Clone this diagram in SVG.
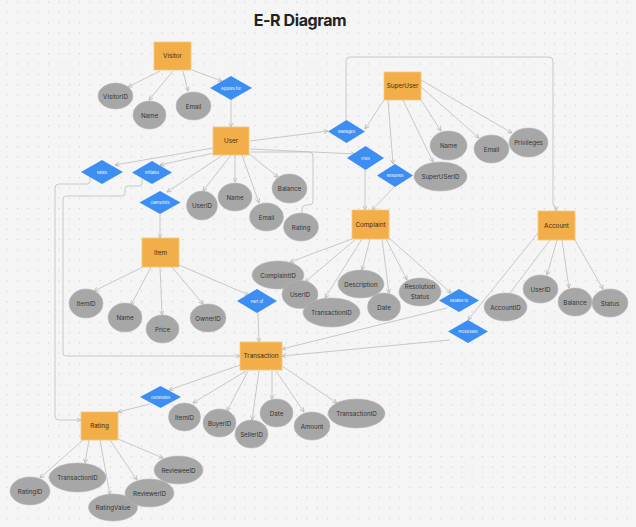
<svg xmlns="http://www.w3.org/2000/svg" width="636" height="527" viewBox="0 0 636 527">
<defs>
<pattern id="dots" x="6.7" y="1.4" width="10.33" height="10.33" patternUnits="userSpaceOnUse">
<circle cx="0.6" cy="0.6" r="0.6" fill="#c9c9c9"/>
</pattern>
<marker id="arr" viewBox="0 0 6 6" refX="5.5" refY="3" markerWidth="5" markerHeight="5" markerUnits="userSpaceOnUse" orient="auto">
<path d="M0.5,0.5 L5.5,3 L0.5,5.5" fill="none" stroke="#b5b5b5" stroke-width="0.9"/>
</marker>
<style>
.ent{fill:#F2AE48;stroke:#F7C880;stroke-width:0.8}
.att{fill:#A7A7A7;stroke:#B9B9B9;stroke-width:0.6}
.rel{fill:#3D8EF2}
.et{font-family:Inter,"Liberation Sans",sans-serif;font-size:6.3px;fill:#3a2c16;text-anchor:middle;dominant-baseline:central}
.at{font-family:Inter,"Liberation Sans",sans-serif;font-size:6.2px;fill:#333;text-anchor:middle;dominant-baseline:central}
.rt{font-family:Inter,"Liberation Sans",sans-serif;font-size:3.9px;fill:#ffffff;text-anchor:middle;dominant-baseline:central}
.c{fill:none;stroke:#bdbdbd;stroke-width:0.8}
.ca{fill:none;stroke:#bdbdbd;stroke-width:0.8;marker-end:url(#arr)}
</style>
</defs>
<rect width="636" height="527" fill="#f5f5f5"/>
<rect width="636" height="527" fill="url(#dots)"/>
<text x="300" y="20" font-family="Inter,'Liberation Sans',sans-serif" font-size="16" font-weight="700" fill="#222" text-anchor="middle" dominant-baseline="central" letter-spacing="-0.4">E-R Diagram</text>

<g id="connectors">
<!-- Visitor -->
<line class="ca" x1="160" y1="71" x2="128" y2="87"/>
<line class="ca" x1="173" y1="71" x2="149" y2="100"/>
<line class="ca" x1="183" y1="71" x2="188" y2="91"/>
<line class="ca" x1="192" y1="70" x2="222" y2="81"/>
<line class="ca" x1="231" y1="100" x2="231" y2="127"/>
<!-- User -->
<line class="ca" x1="250" y1="141" x2="328" y2="131"/>
<line class="ca" x1="250" y1="149" x2="355" y2="154"/>
<line class="ca" x1="213" y1="148" x2="115" y2="165"/>
<line class="ca" x1="214" y1="153" x2="160" y2="165"/>
<line class="ca" x1="223" y1="155" x2="167" y2="192"/>
<line class="ca" x1="231" y1="155" x2="203" y2="191"/>
<line class="ca" x1="235" y1="155" x2="235" y2="182"/>
<line class="ca" x1="242" y1="155" x2="259" y2="203"/>
<line class="ca" x1="248" y1="153" x2="278" y2="177"/>
<path class="c" d="M250,152 H309 Q313,152 313,156 V201 Q313,205 309,205 H306 Q302,205 302,209 V213"/>
<path class="ca" d="M90,178 V181 Q90,184 87,184 H59 Q55,184 55,188 V416 Q55,420 59,420 H81"/>
<path class="ca" d="M142,179 V183 Q142,186 139,186 H128 Q125,186 125,189 V193 Q125,196 122,196 H66 Q63,196 63,199 V353 Q63,356 66,356 H240"/>
<line class="ca" x1="160" y1="214" x2="160" y2="238"/>
<!-- SuperUser -->
<path class="ca" d="M346,120 V61 Q346,57 350,57 H549 Q553,57 553,61 V203 Q553,207 556,207 V211"/>
<line class="ca" x1="384" y1="100" x2="365" y2="129"/>
<line class="ca" x1="388" y1="100" x2="393" y2="164"/>
<line class="ca" x1="403" y1="100" x2="433" y2="162"/>
<line class="ca" x1="421" y1="100" x2="441" y2="131"/>
<line class="ca" x1="421" y1="87" x2="479" y2="138"/>
<line class="ca" x1="421" y1="80" x2="512" y2="133"/>
<line class="ca" x1="365" y1="170" x2="365" y2="210"/>
<line class="ca" x1="394" y1="187" x2="372" y2="210"/>
<!-- Complaint -->
<line class="ca" x1="352" y1="239" x2="290" y2="262"/>
<line class="ca" x1="356" y1="239" x2="305" y2="282"/>
<line class="ca" x1="362" y1="239" x2="325" y2="298"/>
<line class="ca" x1="370" y1="239" x2="362" y2="270"/>
<line class="ca" x1="382" y1="239" x2="389" y2="293"/>
<line class="ca" x1="386" y1="239" x2="407" y2="280"/>
<line class="ca" x1="389" y1="238" x2="451" y2="293"/>
<line class="ca" x1="447" y1="308" x2="282" y2="349"/>
<!-- Account -->
<line class="ca" x1="538" y1="233" x2="468" y2="320"/>
<line class="c" x1="550" y1="240" x2="510" y2="293"/>
<line class="ca" x1="557" y1="240" x2="547" y2="275"/>
<line class="ca" x1="562" y1="240" x2="569" y2="288"/>
<line class="ca" x1="575" y1="240" x2="603" y2="289"/>
<line class="ca" x1="450" y1="340" x2="282" y2="356"/>
<!-- Item -->
<line class="ca" x1="143" y1="267" x2="94" y2="291"/>
<line class="ca" x1="151" y1="267" x2="131" y2="305"/>
<line class="ca" x1="160" y1="267" x2="162" y2="315"/>
<line class="ca" x1="172" y1="267" x2="203" y2="304"/>
<line class="ca" x1="179" y1="265" x2="249" y2="295"/>
<line class="ca" x1="258" y1="313" x2="259" y2="342"/>
<!-- Transaction -->
<line class="ca" x1="240" y1="365" x2="169" y2="390"/>
<line class="ca" x1="246" y1="371" x2="193" y2="403"/>
<line class="ca" x1="248" y1="371" x2="227" y2="411"/>
<line class="ca" x1="259" y1="371" x2="252" y2="420"/>
<line class="ca" x1="272" y1="371" x2="272" y2="399"/>
<line class="ca" x1="276" y1="371" x2="304" y2="412"/>
<line class="ca" x1="282" y1="366" x2="337" y2="403"/>
<line class="ca" x1="150" y1="404" x2="118" y2="412"/>
<!-- Rating -->
<line class="ca" x1="83" y1="440" x2="40" y2="478"/>
<line class="ca" x1="89" y1="440" x2="85" y2="463"/>
<line class="ca" x1="100" y1="440" x2="110" y2="495"/>
<line class="ca" x1="110" y1="440" x2="137" y2="480"/>
<line class="ca" x1="118" y1="439" x2="163" y2="458"/>
</g>

<!-- Entities -->
<g id="visitor"><rect class="ent" x="154" y="42" width="37" height="28"/><text class="et" x="172.5" y="56">Visitor</text></g>
<g id="user"><rect class="ent" x="213" y="127" width="36" height="28"/><text class="et" x="231" y="141">User</text></g>
<g id="superuser"><rect class="ent" x="384" y="72" width="37" height="28"/><text class="et" x="402.5" y="86">SuperUser</text></g>
<g id="complaint"><rect class="ent" x="352" y="210" width="37" height="29"/><text class="et" x="370.5" y="224.5">Complaint</text></g>
<g id="account"><rect class="ent" x="538" y="211" width="37" height="29"/><text class="et" x="556.5" y="225.5">Account</text></g>
<g id="item"><rect class="ent" x="142" y="238" width="37" height="29"/><text class="et" x="160.5" y="252.5">Item</text></g>
<g id="transaction"><rect class="ent" x="240" y="342" width="42" height="28"/><text class="et" x="261" y="356">Transaction</text></g>
<g id="rating"><rect class="ent" x="81" y="412" width="37" height="28"/><text class="et" x="99.5" y="426">Rating</text></g>

<!-- Relationships -->
<g id="applies-for"><polygon class="rel" points="210,88 231,76 252,88 231,100"/><text class="rt" x="231" y="88">Applies for</text></g>
<g id="manages"><polygon class="rel" points="328,131.5 346.5,120 365,131.5 346.5,143"/><text class="rt" x="346.5" y="131.5">Manages</text></g>
<g id="files"><polygon class="rel" points="347,158 365.5,146 384,158 365.5,170"/><text class="rt" x="365.5" y="158">Files</text></g>
<g id="resolves"><polygon class="rel" points="377,175.5 395,164 413,175.5 395,187"/><text class="rt" x="395" y="175.5">Resolves</text></g>
<g id="rates"><polygon class="rel" points="81,172 102,160 123,172 102,184"/><text class="rt" x="102" y="172">Rates</text></g>
<g id="initiates"><polygon class="rel" points="132,172.5 152,161 172,172.5 152,184"/><text class="rt" x="152" y="172.5">Initiates</text></g>
<g id="owns-lists"><polygon class="rel" points="139.5,202.5 160,191 180.5,202.5 160,214"/><text class="rt" x="160" y="202.5">Owns/lists</text></g>
<g id="part-of"><polygon class="rel" points="237,301 257,289 277,301 257,313"/><text class="rt" x="257" y="301">Part of</text></g>
<g id="relates-to"><polygon class="rel" points="439,300.5 459,289 479,300.5 459,312"/><text class="rt" x="459" y="300.5">Relates to</text></g>
<g id="processes"><polygon class="rel" points="448,331.5 468,320 488,331.5 468,343"/><text class="rt" x="468" y="331.5">Processes</text></g>
<g id="generates"><polygon class="rel" points="140,397 160.5,386 181,397 160.5,408"/><text class="rt" x="160.5" y="397">Generates</text></g>

<!-- Attributes -->
<g id="visitor-visitorid"><ellipse class="att" cx="115.5" cy="96" rx="17.5" ry="13"/><text class="at" x="115.5" y="96">VisitorID</text></g>
<g id="visitor-name"><ellipse class="att" cx="149.5" cy="115" rx="16.5" ry="14"/><text class="at" x="149.5" y="115">Name</text></g>
<g id="visitor-email"><ellipse class="att" cx="193.5" cy="106" rx="17.5" ry="14"/><text class="at" x="193.5" y="106">Email</text></g>

<g id="su-name"><ellipse class="att" cx="448.5" cy="145.5" rx="18.5" ry="14.5"/><text class="at" x="448.5" y="145.5">Name</text></g>
<g id="su-email"><ellipse class="att" cx="491.5" cy="149" rx="17.5" ry="14"/><text class="at" x="491.5" y="149">Email</text></g>
<g id="su-privileges"><ellipse class="att" cx="528.5" cy="142.5" rx="19.5" ry="14.5"/><text class="at" x="528.5" y="142.5">Privileges</text></g>
<g id="su-id"><ellipse class="att" cx="440.5" cy="176.5" rx="26.5" ry="14.5"/><text class="at" x="440.5" y="176.5">SuperUSerID</text></g>

<g id="user-userid"><ellipse class="att" cx="202" cy="205.5" rx="15.5" ry="14.5"/><text class="at" x="202" y="205.5">UserID</text></g>
<g id="user-name"><ellipse class="att" cx="235" cy="197" rx="17" ry="14"/><text class="at" x="235" y="197">Name</text></g>
<g id="user-email"><ellipse class="att" cx="266.5" cy="217" rx="17" ry="14"/><text class="at" x="266.5" y="217">Email</text></g>
<g id="user-balance"><ellipse class="att" cx="289.5" cy="188.5" rx="17.5" ry="14.5"/><text class="at" x="289.5" y="188.5">Balance</text></g>
<g id="user-rating"><ellipse class="att" cx="301" cy="227" rx="17.5" ry="14"/><text class="at" x="301" y="227">Rating</text></g>

<g id="c-complaintid"><ellipse class="att" cx="278" cy="275" rx="26" ry="14"/><text class="at" x="278" y="275">ComplaintID</text></g>
<g id="c-userid"><ellipse class="att" cx="300" cy="294.5" rx="18" ry="14"/><text class="at" x="300" y="294.5">UserID</text></g>
<g id="c-transactionid"><ellipse class="att" cx="331.5" cy="312.5" rx="28.5" ry="14.5"/><text class="at" x="331.5" y="312.5">TransactionID</text></g>
<g id="c-description"><ellipse class="att" cx="361" cy="284" rx="23" ry="14"/><text class="at" x="361" y="284">Description</text></g>
<g id="c-date"><ellipse class="att" cx="384" cy="307" rx="16.5" ry="14"/><text class="at" x="384" y="307">Date</text></g>
<g id="c-resolution"><ellipse class="att" cx="420" cy="292" rx="21" ry="14"/><text class="at" x="420" y="286.5">Resolution</text><text class="at" x="420" y="296.5">Status</text></g>

<g id="a-accountid"><ellipse class="att" cx="505.5" cy="307" rx="21.5" ry="14"/><text class="at" x="505.5" y="307">AccountID</text></g>
<g id="a-userid"><ellipse class="att" cx="540.5" cy="289" rx="17.5" ry="14"/><text class="at" x="540.5" y="289">UserID</text></g>
<g id="a-balance"><ellipse class="att" cx="575" cy="302" rx="17" ry="14"/><text class="at" x="575" y="302">Balance</text></g>
<g id="a-status"><ellipse class="att" cx="610" cy="303" rx="18" ry="14"/><text class="at" x="610" y="303">Status</text></g>

<g id="i-itemid"><ellipse class="att" cx="86" cy="303.5" rx="17" ry="14.5"/><text class="at" x="86" y="303.5">ItemID</text></g>
<g id="i-name"><ellipse class="att" cx="125" cy="317.5" rx="17" ry="14.5"/><text class="at" x="125" y="317.5">Name</text></g>
<g id="i-price"><ellipse class="att" cx="162.5" cy="329" rx="16.5" ry="14"/><text class="at" x="162.5" y="329">Price</text></g>
<g id="i-ownerid"><ellipse class="att" cx="208" cy="318" rx="18" ry="14"/><text class="at" x="208" y="318">OwnerID</text></g>

<g id="t-itemid"><ellipse class="att" cx="184.5" cy="417" rx="16" ry="14"/><text class="at" x="184.5" y="417">ItemID</text></g>
<g id="t-buyerid"><ellipse class="att" cx="219.5" cy="423" rx="16.5" ry="14"/><text class="at" x="219.5" y="423">BuyerID</text></g>
<g id="t-sellerid"><ellipse class="att" cx="251.5" cy="434" rx="16.5" ry="14"/><text class="at" x="251.5" y="434">SellerID</text></g>
<g id="t-date"><ellipse class="att" cx="276.5" cy="413" rx="16.5" ry="14"/><text class="at" x="276.5" y="413">Date</text></g>
<g id="t-amount"><ellipse class="att" cx="312" cy="426" rx="18" ry="14"/><text class="at" x="312" y="426">Amount</text></g>
<g id="t-transactionid"><ellipse class="att" cx="356.5" cy="413.5" rx="28.5" ry="14.5"/><text class="at" x="356.5" y="413.5">TransactionID</text></g>

<g id="r-ratingid"><ellipse class="att" cx="30" cy="491" rx="20" ry="14"/><text class="at" x="30" y="491">RatingID</text></g>
<g id="r-transactionid"><ellipse class="att" cx="77.5" cy="477.5" rx="28.5" ry="14.5"/><text class="at" x="77.5" y="477.5">TransactionID</text></g>
<g id="r-ratingvalue"><ellipse class="att" cx="113" cy="507.5" rx="24.5" ry="13.5"/><text class="at" x="113" y="507.5">RatingValue</text></g>
<g id="r-reviewerid"><ellipse class="att" cx="149.5" cy="493" rx="24.5" ry="14"/><text class="at" x="149.5" y="493">ReviewerID</text></g>
<g id="r-revieweeid"><ellipse class="att" cx="178.5" cy="470" rx="24.5" ry="14"/><text class="at" x="178.5" y="470">RevieweeID</text></g>
</svg>
